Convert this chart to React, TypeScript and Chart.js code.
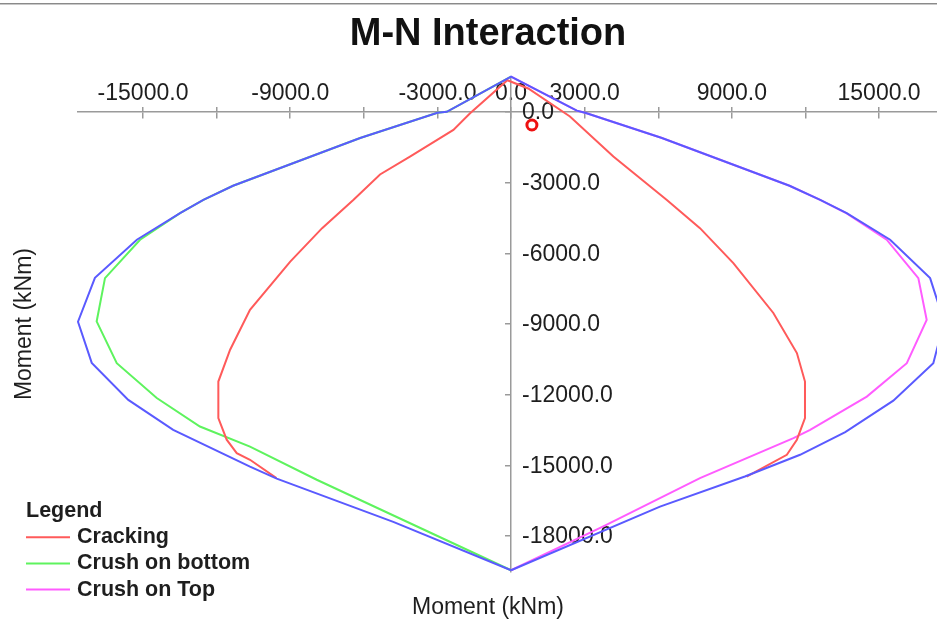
import { useEffect, useRef } from 'react';
import { Chart, registerables } from 'chart.js';

Chart.register(...registerables);

const FONT = '"Liberation Sans", Arial, Helvetica, sans-serif';
const TEXT = '#1e1e1e';
const AXIS = '#9a9a9a';

// ---- data (moment values, kNm) ----
const ENVELOPE_X = [0, -4800, -9550, -10640, -13770, -15600, -17090, -17650, -16960, -15250, -13490, -12540, -11330, -6150, -3000, -2620, 0, 2680, 3050, 6150, 11350, 12600, 13680, 15450, 17080, 17650, 17210, 15580, 13620, 11780, 9530, 6070, 0];
const ENVELOPE_Y = [-19450, -17400, -15560, -15050, -13490, -12220, -10650, -8900, -7040, -5420, -4290, -3730, -3130, -1100, -30, 10, 1500, 60, -40, -1100, -3130, -3730, -4290, -5420, -7050, -8900, -10660, -12250, -13590, -14550, -15470, -16750, -19450];

const CRACKING_X = [-9560, -10640, -11180, -11590, -11930, -11930, -11450, -10640, -9000, -7700, -6430, -5340, -4120, -2350, -1670, -150, 700, 2400, 4170, 6350, 7700, 9060, 10690, 11650, 11980, 11980, 11650, 11240, 9600];
const CRACKING_Y = [-15540, -14760, -14480, -13910, -12990, -11440, -10090, -8400, -6350, -4930, -3730, -2650, -1890, -760, -50, 1350, 1000, -190, -1890, -3730, -4930, -6410, -8530, -10230, -11440, -12990, -13910, -14550, -15480];

const CRUSH_BOTTOM_X = [0, -7920, -10640, -12680, -14440, -16070, -16890, -16550, -15120, -13490, -12540, -11330, -6150, -3000, -2620, 0];
const CRUSH_BOTTOM_Y = [-19450, -15610, -14200, -13350, -12140, -10660, -8890, -7050, -5420, -4290, -3730, -3130, -1100, -30, 10, 1500];

const CRUSH_TOP_X = [0, 3760, 7700, 11510, 12190, 14500, 16130, 16940, 16600, 15310, 13680, 12600, 11350, 6150, 3050, 2680, 0];
const CRUSH_TOP_Y = [-19450, -17590, -15540, -13840, -13490, -12080, -10660, -8820, -7050, -5420, -4300, -3730, -3130, -1100, -40, 60, 1500];

const LOAD_X = [850];
const LOAD_Y = [-550];

// ---- axes ----
const X_MIN = -17650;
const X_MAX = 18950;
const Y_MIN = -19500;
const Y_MAX = 1500;
const X_TICKS = [-15000, -12000, -9000, -6000, -3000, 0, 3000, 6000, 9000, 12000, 15000];
const X_LABELED = [-15000, -9000, -3000, 0, 3000, 9000, 15000];
const Y_TICKS = [0, -3000, -6000, -9000, -12000, -15000, -18000];

const TITLE = 'M-N Interaction';
const AXIS_TITLE = 'Moment (kNm)';
const LEGEND_TITLE = 'Legend';

const fmt = (v: number) => Number(v).toFixed(1);
const pts = (xs: number[], ys: number[]) => xs.map((x, i) => ({ x, y: ys[i] }));

const overlayPlugin = {
  id: 'mnOverlay',
  beforeDatasetsDraw(chart: any) {
    const { ctx } = chart;
    const xs = chart.scales.x;
    const ys = chart.scales.y;
    const x0 = xs.getPixelForValue(0);
    ctx.save();
    ctx.font = `23px ${FONT}`;
    ctx.fillStyle = TEXT;
    ctx.textAlign = 'left';
    ctx.textBaseline = 'middle';
    ys.ticks.forEach((t: any) => {
      ctx.fillText(fmt(t.value), x0 + 11, ys.getPixelForValue(t.value) + 1);
    });
    ctx.restore();
  },
  afterDraw(chart: any) {
    const { ctx } = chart;
    const opts = chart.options.plugins.mnOverlay;
    const left = opts.left;
    let y = opts.top;
    ctx.save();
    ctx.textAlign = 'left';
    ctx.textBaseline = 'middle';
    ctx.fillStyle = TEXT;
    ctx.font = `bold 21.5px ${FONT}`;
    ctx.fillText(LEGEND_TITLE, left, y);
    chart.data.datasets
      .filter((d: any) => d.inLegend)
      .forEach((d: any) => {
        y += opts.rowGap;
        ctx.strokeStyle = d.borderColor;
        ctx.lineWidth = 2;
        ctx.beginPath();
        ctx.moveTo(left, y);
        ctx.lineTo(left + opts.lineLength, y);
        ctx.stroke();
        ctx.fillStyle = TEXT;
        ctx.fillText(d.label, left + opts.lineLength + 7, y);
      });
    ctx.restore();
  },
};

export default function App() {
  const ref = useRef<HTMLCanvasElement | null>(null);

  useEffect(() => {
    if (!ref.current) return;
    const lineDs = (label: string, xs: number[], ys: number[], color: string, order: number, inLegend: boolean) => ({
      label,
      data: pts(xs, ys),
      showLine: true,
      borderColor: color,
      backgroundColor: color,
      borderWidth: 2,
      pointRadius: 0,
      pointHoverRadius: 0,
      tension: 0,
      clip: false,
      order,
      inLegend,
    });

    const xTickSetter = (scale: any) => {
      scale.ticks = X_TICKS.map((value) => ({ value }));
    };

    const chart = new Chart(ref.current, {
      type: 'scatter',
      data: {
        datasets: [
          lineDs('Envelope', ENVELOPE_X, ENVELOPE_Y, '#5a5aff', 1, false),
          lineDs('Cracking', CRACKING_X, CRACKING_Y, '#ff5a5a', 2, true),
          lineDs('Crush on bottom', CRUSH_BOTTOM_X, CRUSH_BOTTOM_Y, '#5ef35e', 3, true),
          lineDs('Crush on Top', CRUSH_TOP_X, CRUSH_TOP_Y, '#ff5cff', 4, true),
          {
            label: 'Load',
            data: pts(LOAD_X, LOAD_Y),
            showLine: false,
            pointRadius: 5,
            pointBorderWidth: 3,
            borderColor: '#ee1111',
            pointBorderColor: '#ee1111',
            pointBackgroundColor: '#ffffff',
            backgroundColor: '#ffffff',
            clip: false,
            order: 0,
            inLegend: false,
          } as any,
        ],
      },
      options: {
        responsive: false,
        animation: false,
        devicePixelRatio: 1,
        events: [],
        layout: { padding: 0, autoPadding: false },
        font: { family: FONT },
        plugins: {
          legend: { display: false },
          tooltip: { enabled: false },
          title: {
            display: true,
            text: TITLE,
            color: '#111',
            font: { family: FONT, size: 38, weight: 'bold' },
            padding: { top: 11.5, bottom: 19.6 },
          },
          subtitle: {
            display: true,
            position: 'bottom',
            text: AXIS_TITLE,
            color: TEXT,
            font: { family: FONT, size: 23, weight: 'normal' },
            padding: { top: 22.8, bottom: 8.2 },
          },
          mnOverlay: { left: 26, top: 511, rowGap: 26.2, lineLength: 44 },
        } as any,
        scales: {
          x: {
            type: 'linear',
            position: { y: 0 } as any,
            min: X_MIN,
            max: X_MAX,
            afterBuildTicks: xTickSetter,
            ticks: {
              autoSkip: false,
              maxRotation: 0,
              minRotation: 0,
              padding: -38,
              color: TEXT,
              font: { family: FONT, size: 23 },
              callback: (v: any) => (X_LABELED.includes(Number(v)) ? fmt(Number(v)) : ''),
            },
            grid: { display: true, drawOnChartArea: false, drawTicks: true, tickLength: 6, color: AXIS, lineWidth: 1.5 },
            border: { display: true, color: AXIS, width: 1.5 },
          },
          xTicksUp: {
            type: 'linear',
            axis: 'x',
            position: { y: 0 } as any,
            min: X_MIN,
            max: X_MAX,
            afterBuildTicks: xTickSetter,
            ticks: { display: false },
            grid: { display: true, drawOnChartArea: false, drawTicks: true, tickLength: -5, color: AXIS, lineWidth: 1.5 },
            border: { display: false },
          },
          y: {
            type: 'linear',
            position: { x: 0 } as any,
            min: Y_MIN,
            max: Y_MAX,
            afterBuildTicks: (scale: any) => {
              scale.ticks = Y_TICKS.map((value) => ({ value }));
            },
            ticks: { display: false },
            grid: { display: true, drawOnChartArea: false, drawTicks: true, tickLength: 5, color: AXIS, lineWidth: 1.5 },
            border: { display: true, color: AXIS, width: 1.5 },
          },
          yTitle: {
            type: 'linear',
            axis: 'y',
            position: 'left',
            display: true,
            min: 0,
            max: 1,
            ticks: { display: false },
            grid: { display: false, drawTicks: false },
            border: { display: false },
            title: {
              display: true,
              text: AXIS_TITLE,
              color: TEXT,
              font: { family: FONT, size: 23 },
              padding: { top: 11.2, bottom: 39.2 },
            },
          },
        } as any,
      },
      plugins: [overlayPlugin],
    } as any);
    return () => chart.destroy();
  }, []);

  return (
    <div style={{ position: 'absolute', left: 0, top: 0, width: 937, height: 621, overflow: 'hidden', background: '#ffffff' }}>
      <canvas ref={ref} width={976} height={630} style={{ position: 'absolute', left: 0, top: 0, width: 976, height: 630 }} />
      <div style={{ position: 'absolute', left: 0, top: 3, width: '100%', height: 1, background: '#8a8a8a' }} />
      <div style={{ position: 'absolute', left: 0, top: 4, width: '100%', height: 1, background: '#c8c8c8' }} />
    </div>
  );
}
